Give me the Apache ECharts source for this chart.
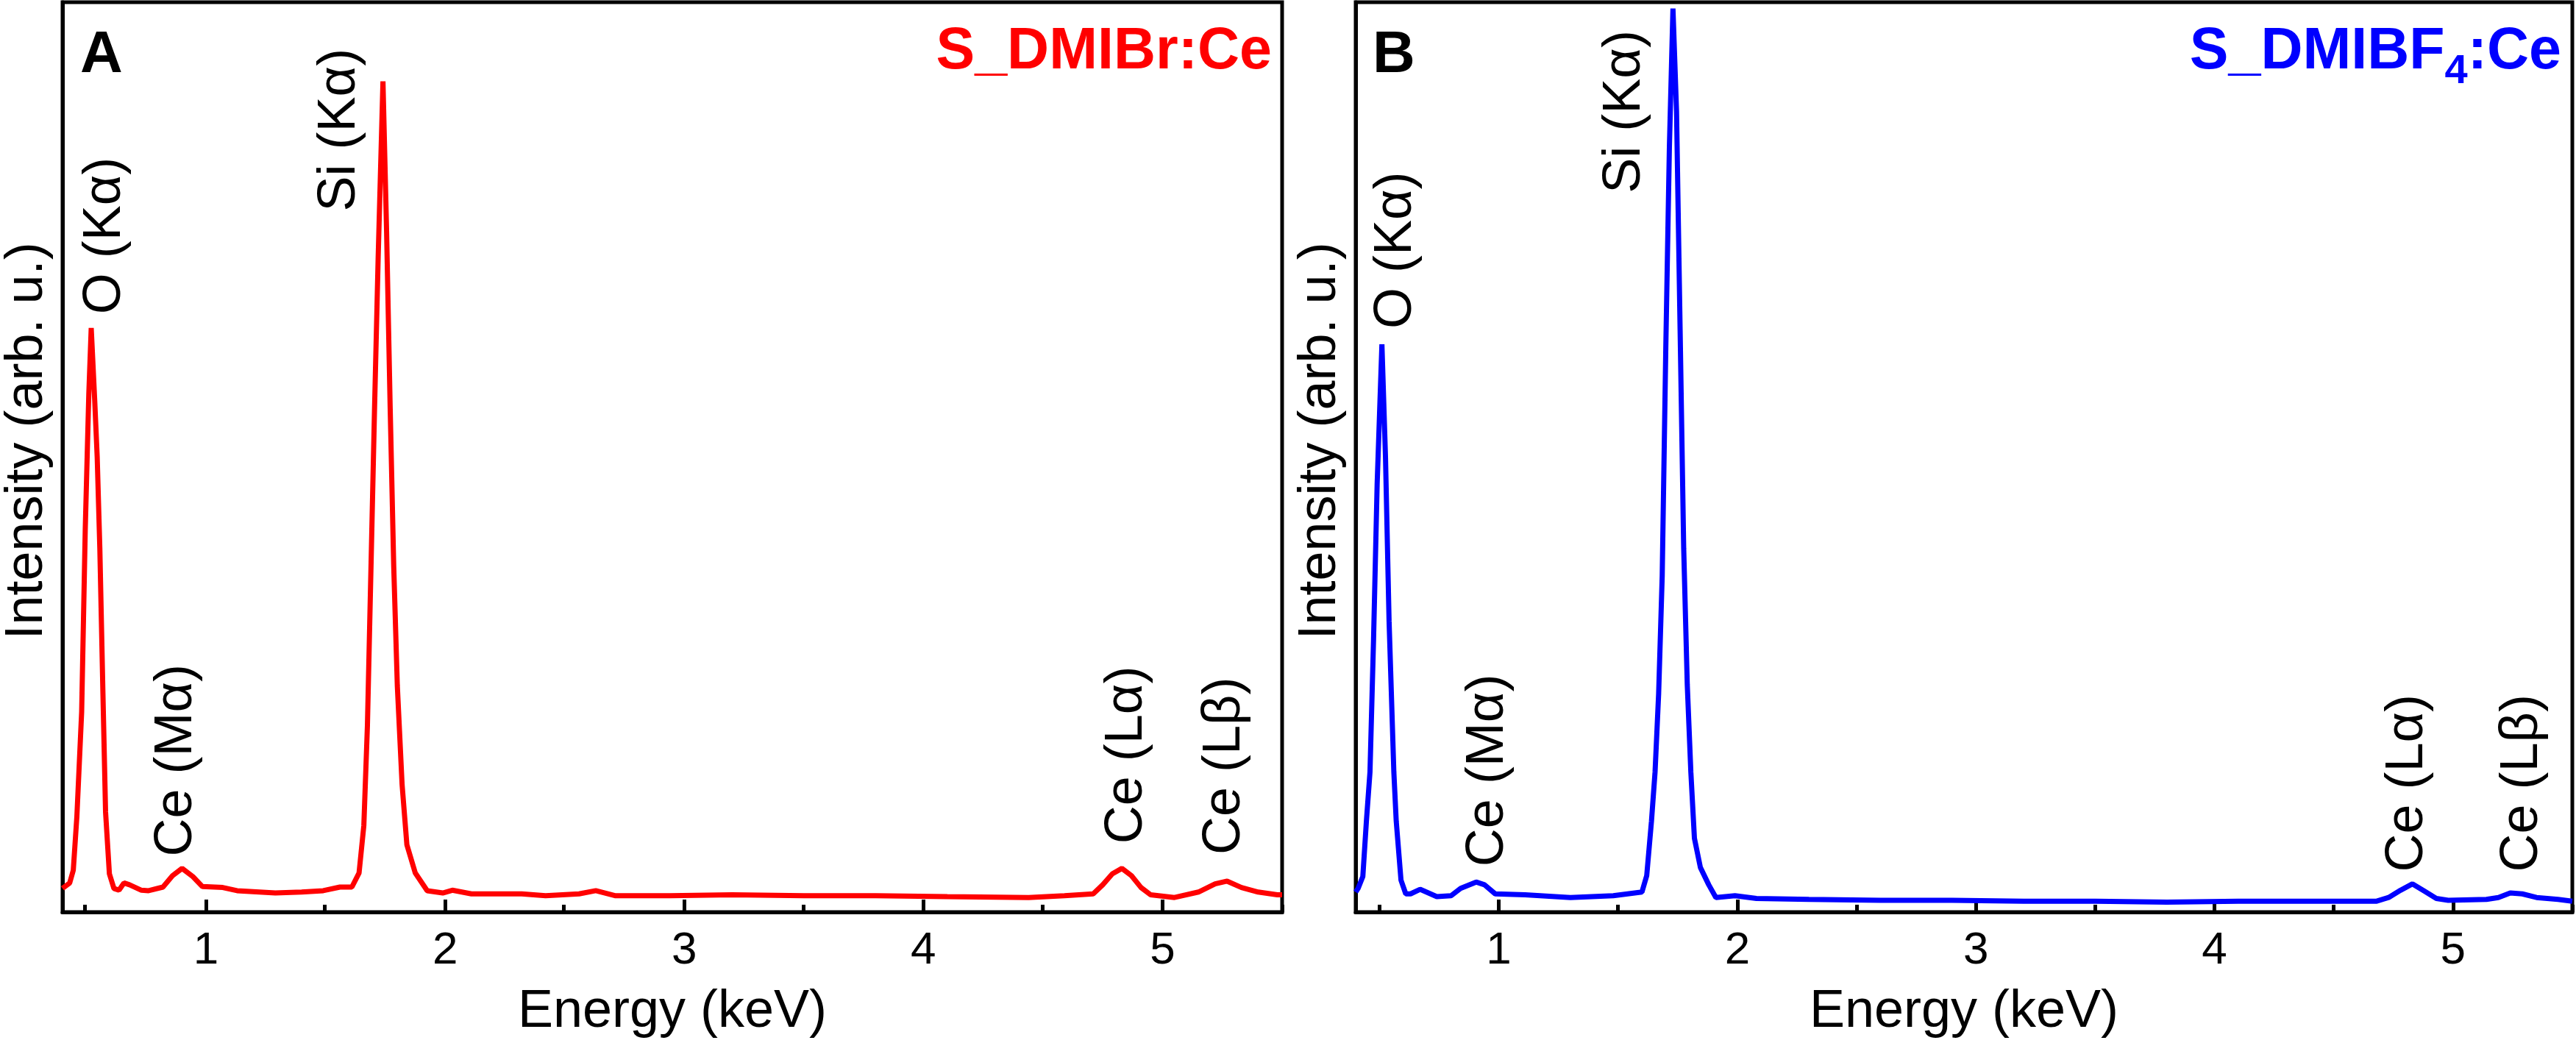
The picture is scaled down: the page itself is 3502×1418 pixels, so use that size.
<!DOCTYPE html>
<html>
<head>
<meta charset="utf-8">
<script src="https://cdn.jsdelivr.net/npm/echarts@6/dist/echarts.min.js"></script>
<style>
  html, body { margin: 0; padding: 0; background: #fff; }
  #chart { width: 3502px; height: 1418px; }
</style>
</head>
<body>
<div id="chart"></div>
<script>
// EDS spectra (energy in keV, intensity in arb. u.)
const energyA = [0.40, 0.43, 0.445, 0.46, 0.48, 0.495, 0.51, 0.52, 0.535, 0.545, 0.556, 0.569, 0.58, 0.596,
  0.615, 0.636, 0.657, 0.68, 0.73, 0.76, 0.82, 0.86, 0.90, 0.945, 0.985, 1.07, 1.13, 1.29, 1.40, 1.49, 1.56,
  1.61, 1.64, 1.66, 1.675, 1.69, 1.705, 1.72, 1.74, 1.755, 1.77, 1.785, 1.80, 1.82, 1.84, 1.875, 1.925, 1.99,
  2.03, 2.11, 2.32, 2.42, 2.56, 2.63, 2.71, 2.94, 3.2, 3.5, 3.8, 4.1, 4.44, 4.59, 4.71, 4.75, 4.79, 4.83,
  4.87, 4.91, 4.95, 5.05, 5.15, 5.22, 5.27, 5.33, 5.40, 5.48, 5.5];
const intensityA = [2.6, 3.2, 4.6, 10.5, 22, 42, 57, 64.2, 56, 50, 40, 24, 11, 4.2,
  2.6, 2.4, 3.2, 3.0, 2.4, 2.35, 2.75, 4.0, 4.8, 3.9, 2.8, 2.7, 2.35, 2.1, 2.2, 2.35, 2.75,
  2.75, 4.3, 9.5, 20.5, 38, 55.6, 72, 91.3, 75, 55.6, 38, 24.9, 14, 7.4, 4.3, 2.35, 2.1,
  2.4, 2.0, 2.0, 1.8, 2.0, 2.35, 1.8, 1.8, 1.9, 1.8, 1.8, 1.7, 1.6, 1.8, 2.0, 3.0, 4.2, 4.8,
  4.0, 2.7, 1.9, 1.6, 2.2, 3.1, 3.4, 2.7, 2.2, 1.9, 1.9];

const energyB = [0.40, 0.41, 0.43, 0.445, 0.46, 0.475, 0.49, 0.51, 0.525, 0.54, 0.56, 0.57, 0.59, 0.61, 0.63,
  0.67, 0.74, 0.80, 0.84, 0.905, 0.94, 0.985, 1.11, 1.30, 1.48, 1.60, 1.62, 1.64, 1.655, 1.67, 1.685, 1.70,
  1.715, 1.73, 1.745, 1.76, 1.775, 1.79, 1.805, 1.82, 1.845, 1.88, 1.91, 1.99, 2.08, 2.3, 2.6, 2.9, 3.2,
  3.5, 3.8, 4.1, 4.4, 4.68, 4.73, 4.78, 4.83, 4.88, 4.93, 4.98, 5.14, 5.19, 5.24, 5.29, 5.35, 5.44, 5.5];
const intensityB = [2.2, 2.6, 3.9, 10, 15.4, 30, 47, 62.4, 50, 32, 15.4, 10, 3.5, 2.0, 2.0,
  2.5, 1.7, 1.8, 2.6, 3.3, 3.0, 2.0, 1.9, 1.6, 1.8, 2.2, 4.0, 10, 15.4, 24, 37, 62,
  84, 99.3, 88, 64, 40, 25, 15.4, 8.1, 4.9, 3.0, 1.6, 1.8, 1.5, 1.4, 1.3, 1.3, 1.2,
  1.2, 1.1, 1.2, 1.2, 1.2, 1.6, 2.4, 3.1, 2.3, 1.5, 1.3, 1.4, 1.6, 2.1, 2.0, 1.6, 1.4, 1.2];

const majorTicks = [1, 2, 3, 4, 5];
const minorTicks = [0.5, 1.5, 2.5, 3.5, 4.5, 5.5];

// peak annotations: [text, energy, intensity] where the rotated text starts
const peaksA = [['O (Kα)', 0.578, 65.7], ['Si (Kα)', 1.56, 77.0], ['Ce (Mα)', 0.878, 6.1],
  ['Ce (Lα)', 4.85, 7.5], ['Ce (Lβ)', 5.26, 6.3]];
const peaksB = [['O (Kα)', 0.569, 64.1], ['Si (Kα)', 1.53, 79.0], ['Ce (Mα)', 0.954, 5.0],
  ['Ce (Lα)', 4.81, 4.4], ['Ce (Lβ)', 5.29, 4.4]];

const FONT = '"Liberation Sans", Arial, Helvetica, sans-serif';
const RED = '#ff0000';
const BLUE = '#0000ff';

const chart = echarts.init(document.getElementById('chart'), null, { renderer: 'canvas' });

const zip = (xs, ys) => xs.map((x, i) => [x, ys[i]]);

// grids 0/1 hold the spectra, 2/3 overlay them only to carry the minor ticks
const gridA = { left: 83, right: 1759, top: 3, bottom: 178 };
const gridB = { left: 1843, right: 5, top: 3, bottom: 178 };

function mainX(gridIndex) {
  return {
    type: 'value', gridIndex, min: 0.4, max: 5.5,
    name: 'Energy (keV)', nameLocation: 'middle', nameGap: 100,
    nameTextStyle: { fontSize: 72, color: '#000', fontFamily: FONT },
    axisLine: { lineStyle: { color: '#000', width: 5 } },
    axisTick: { inside: true, length: 17, lineStyle: { color: '#000', width: 5 }, customValues: majorTicks },
    axisLabel: { fontSize: 62, color: '#000', fontFamily: FONT, margin: 22, customValues: majorTicks },
    splitLine: { show: false }
  };
}

function minorX(gridIndex) {
  return {
    type: 'value', gridIndex, min: 0.4, max: 5.5,
    axisLine: { show: false },
    axisTick: { inside: true, length: 10, lineStyle: { color: '#000', width: 5 }, customValues: minorTicks },
    axisLabel: { show: false },
    splitLine: { show: false }
  };
}

function mainY(gridIndex) {
  return {
    type: 'value', gridIndex, min: 0, max: 100,
    name: 'Intensity (arb. u.)', nameLocation: 'middle', nameGap: 12,
    nameTextStyle: { fontSize: 72, color: '#000', fontFamily: FONT, padding: [0, 0, 0, 44] },
    axisLine: { show: true, lineStyle: { color: '#000', width: 5 } },
    axisTick: { show: false }, axisLabel: { show: false }, splitLine: { show: false }
  };
}

function hiddenY(gridIndex) {
  return { type: 'value', gridIndex, min: 0, max: 100, show: false };
}

const option = {
  animation: false,
  backgroundColor: '#fff',
  grid: [
    Object.assign({ show: true, borderColor: '#000', borderWidth: 5 }, gridA),
    Object.assign({ show: true, borderColor: '#000', borderWidth: 5 }, gridB),
    Object.assign({}, gridA),
    Object.assign({}, gridB)
  ],
  xAxis: [mainX(0), mainX(1), minorX(2), minorX(3)],
  yAxis: [mainY(0), mainY(1), hiddenY(2), hiddenY(3)],
  series: [
    {
      name: 'S_DMIBr:Ce', type: 'line', xAxisIndex: 0, yAxisIndex: 0,
      data: zip(energyA, intensityA), showSymbol: false, smooth: false,
      lineStyle: { color: RED, width: 7 }
    },
    {
      name: 'S_DMIBF4:Ce', type: 'line', xAxisIndex: 1, yAxisIndex: 1,
      data: zip(energyB, intensityB), showSymbol: false, smooth: false,
      lineStyle: { color: BLUE, width: 7 }
    }
  ]
};

chart.setOption(option);

// text annotations, placed through the axes' own scales
const graphics = [];
function addPeaks(peaks, gridIndex) {
  peaks.forEach(([text, e, v]) => {
    const [px, py] = chart.convertToPixel({ gridIndex }, [e, v]);
    graphics.push({
      type: 'text', x: px, y: py, rotation: Math.PI / 2,
      style: { text, fontSize: 72, fontFamily: FONT, fill: '#000', align: 'left', verticalAlign: 'middle' }
    });
  });
}
addPeaks(peaksA, 0);
addPeaks(peaksB, 1);

const nameRich = {
  n: { fontSize: 79, fontWeight: 'bold', fontFamily: FONT, lineHeight: 110 },
  s: { fontSize: 56, fontWeight: 'bold', fontFamily: FONT, lineHeight: 56, padding: [54, 0, 0, 0], verticalAlign: 'bottom' }
};
function richFill(color) {
  return {
    n: Object.assign({ fill: color }, nameRich.n),
    s: Object.assign({ fill: color }, nameRich.s)
  };
}

graphics.push(
  { type: 'text', x: 109, y: 36, style: { text: 'A', fontSize: 80, fontWeight: 'bold', fontFamily: FONT, fill: '#000', verticalAlign: 'top' } },
  { type: 'text', x: 1866, y: 36, style: { text: 'B', fontSize: 80, fontWeight: 'bold', fontFamily: FONT, fill: '#000', verticalAlign: 'top' } },
  { type: 'text', x: 1729, y: 16, style: { text: '{n|S_DMIBr:Ce}', rich: richFill(RED), align: 'right', verticalAlign: 'top' } },
  { type: 'text', x: 3482, y: 16, style: { text: '{n|S_DMIBF}{s|4}{n|:Ce}', rich: richFill(BLUE), align: 'right', verticalAlign: 'top' } }
);

chart.setOption({ graphic: graphics });

window.addEventListener('resize', () => chart.resize());
</script>
</body>
</html>
